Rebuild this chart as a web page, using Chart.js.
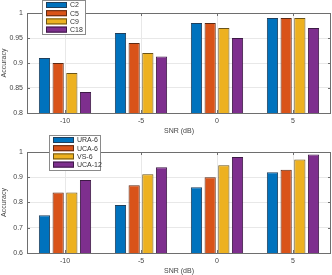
<!DOCTYPE html>
<html>
<head>
<meta charset="utf-8">
<script src="https://cdn.jsdelivr.net/npm/chart.js@4/dist/chart.umd.min.js"></script>
<style>
  html, body { margin: 0; padding: 0; background: #fff; }
  canvas { display: block; }
</style>
</head>
<body>
<canvas id="topChart" width="332" height="135"></canvas>
<canvas id="bottomChart" width="332" height="140"></canvas>
<script>
// SNR categories shared by both panels
const snrLabels = ['-10', '-5', '0', '5'];

// Top panel: accuracy per class count
const topNames = ['C2', 'C5', 'C9', 'C18'];
const c2 = [0.91, 0.96, 0.98, 0.99];
const c5 = [0.90, 0.94, 0.98, 0.99];
const c9 = [0.88, 0.92, 0.97, 0.99];
const c18 = [0.842, 0.913, 0.95, 0.97];
const topTicks = [0.8, 0.85, 0.9, 0.95, 1];

// Bottom panel: accuracy per array geometry
const bottomNames = ['URA-6', 'UCA-6', 'VS-6', 'UCA-12'];
const ura6 = [0.75, 0.79, 0.86, 0.92];
const uca6 = [0.84, 0.868, 0.90, 0.93];
const vs6 = [0.84, 0.912, 0.948, 0.97];
const uca12 = [0.889, 0.94, 0.98, 0.99];
const bottomTicks = [0.6, 0.7, 0.8, 0.9, 1];

const fills = ['#0072BD', '#D95319', '#EDB120', '#7E2F8E'];
const edges = ['#1f3f5c', '#5e2a14', '#6b5418', '#3d1a45'];
const FONT = "'Liberation Sans', Arial, sans-serif";

// MATLAB-like box, mirrored inward ticks and inset legend
const matlabAxes = {
    id: 'matlabAxes',
    afterDatasetsDraw(chart, args, opts) {
        const ctx = chart.ctx;
        const a = chart.chartArea;
        const xs = chart.scales.x, ys = chart.scales.y;
        ctx.save();
        ctx.strokeStyle = '#6e6e6e';
        ctx.lineWidth = 1;
        ctx.beginPath();
        xs.ticks.forEach((t, i) => {
            const x = Math.round(xs.getPixelForTick(i)) + 0.5;
            ctx.moveTo(x, a.bottom); ctx.lineTo(x, a.bottom - 3);
            ctx.moveTo(x, a.top); ctx.lineTo(x, a.top + 3);
        });
        ys.ticks.forEach((t, i) => {
            const y = Math.round(ys.getPixelForTick(i)) + 0.5;
            ctx.moveTo(a.left, y); ctx.lineTo(a.left + 3, y);
            ctx.moveTo(a.right, y); ctx.lineTo(a.right - 3, y);
        });
        ctx.stroke();
        ctx.strokeRect(Math.round(a.left) + 0.5, Math.round(a.top) + 0.5,
            Math.round(a.right - a.left) - 1, Math.round(a.bottom - a.top));

        // legend
        const lg = opts;
        ctx.fillStyle = '#fff';
        ctx.fillRect(lg.x, lg.y, lg.w, lg.h);
        ctx.strokeStyle = '#8a8a8a';
        ctx.strokeRect(lg.x + 0.5, lg.y + 0.5, lg.w - 1, lg.h - 1);
        ctx.font = '7px ' + FONT;
        ctx.textBaseline = 'middle';
        chart.data.datasets.forEach((ds, i) => {
            const cy = lg.y + 5 + i * 8.2;
            ctx.fillStyle = ds.backgroundColor;
            ctx.fillRect(lg.x + 4, cy - 3, 21, 6);
            ctx.strokeStyle = ds.borderColor;
            ctx.strokeRect(lg.x + 4.5, cy - 2.5, 20, 5);
            ctx.fillStyle = '#333';
            ctx.fillText(ds.label, lg.x + 28, cy + 0.5);
        });
        ctx.restore();
    }
};

function makeChart(id, names, series, ticks, step, padTop, legendBox) {
    return new Chart(document.getElementById(id), {
        type: 'bar',
        data: {
            labels: snrLabels,
            datasets: series.map((vals, i) => ({
                label: names[i],
                data: vals,
                backgroundColor: fills[i],
                borderColor: edges[i],
                borderWidth: 1,
                borderSkipped: false,
                categoryPercentage: 0.72,
                barPercentage: 0.82
            }))
        },
        options: {
            responsive: false,
            animation: false,
            layout: { padding: { top: padTop, right: 1, left: 0, bottom: 0 } },
            plugins: {
                legend: { display: false },
                tooltip: { enabled: false },
                matlabAxes: legendBox
            },
            scales: {
                x: {
                    grid: { color: '#e8e8e8', offset: false, drawTicks: false },
                    border: { display: false },
                    ticks: { color: '#444', font: { size: 7, family: FONT }, padding: 4 },
                    title: { display: true, text: 'SNR (dB)', color: '#444',
                        font: { size: 7, family: FONT }, padding: 0 },
                    afterFit(s) { s.height = 22; }
                },
                y: {
                    min: ticks[0],
                    max: ticks[ticks.length - 1],
                    grid: { color: '#e8e8e8', drawTicks: false },
                    border: { display: false },
                    ticks: {
                        stepSize: step,
                        color: '#444',
                        font: { size: 7, family: FONT },
                        padding: 4,
                        callback: v => {
                            const t = ticks.find(k => Math.abs(k - v) < 1e-6);
                            return t === undefined ? '' : String(t);
                        }
                    },
                    title: { display: true, text: 'Accuracy', color: '#444',
                        font: { size: 7, family: FONT }, padding: 0 },
                    afterFit(s) { s.width = 27; }
                }
            }
        },
        plugins: [matlabAxes]
    });
}

makeChart('topChart', topNames, [c2, c5, c9, c18], topTicks, 0.05, 13,
    { x: 42, y: 0, w: 44, h: 35 });
makeChart('bottomChart', bottomNames, [ura6, uca6, vs6, uca12], bottomTicks, 0.1, 17,
    { x: 49, y: 0, w: 52, h: 36 });
</script>
</body>
</html>
